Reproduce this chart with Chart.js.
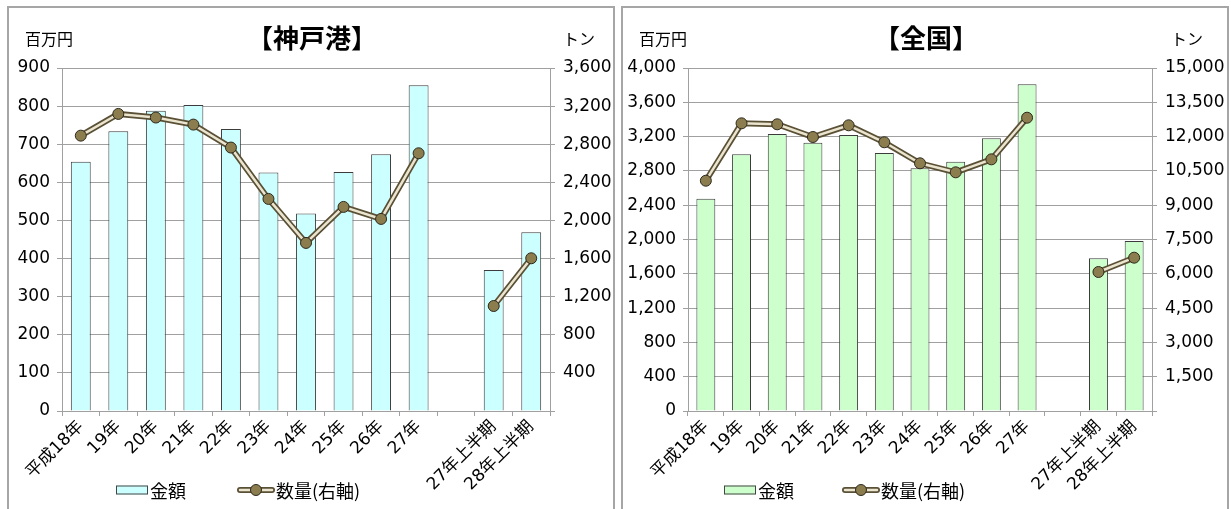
<!DOCTYPE html>
<html>
<head>
<meta charset="utf-8">
<script src="https://cdn.jsdelivr.net/npm/chart.js@4"></script>
<style>
  body { margin: 0; background: #fff; width: 1231px; height: 509px; overflow: hidden; position: relative; }
  .panel { position: absolute; top: 6px; width: 608px; height: 524px; border: 2px solid #a6a6a6; box-sizing: border-box; }
  #p1 { left: 7px; }
  #p2 { left: 621px; }
  canvas { display: block; }
</style>
</head>
<body>
<div class="panel" id="p1"><canvas id="kobe" width="604" height="520"></canvas></div>
<div class="panel" id="p2"><canvas id="zenkoku" width="604" height="520"></canvas></div>
<script>
var categories = ['平成18年', '19年', '20年', '21年', '22年', '23年', '24年', '25年', '26年', '27年', '', '27年上半期', '28年上半期'];

// 神戸港
var kobeAmount = [654, 734, 788, 803, 740, 626, 518, 627, 674, 855, null, 370, 469];
var kobeVolume = [2890, 3118, 3080, 3006, 2765, 2226, 1764, 2142, 2016, 2705, null, 1102, 1603];

// 全国
var allAmount = [2476, 2994, 3230, 3129, 3219, 3009, 2830, 2907, 3180, 3810, null, 1781, 1982];
var allVolume = [10071, 12581, 12538, 11982, 12494, 11751, 10833, 10438, 11006, 12826, null, 6079, 6705];

var FONT = '"DejaVu Sans", "Noto Sans CJK JP", sans-serif';
var JP = '"Noto Sans CJK JP", "DejaVu Sans", sans-serif';
var GRID = '#a0a0a0';
var LINE_DARK = '#5a5036';
var LINE_LIGHT = '#ebe5cf';
var DOT = '#8b7d4e';

function fmt(v) { return v.toLocaleString('en-US'); }

// titles, unit labels and legend
var decorations = {
    id: 'decorations',
    afterDraw: function(chart) {
        var o = chart.options.plugins.decorations;
        var ctx = chart.ctx;
        ctx.save();
        ctx.fillStyle = '#000';
        ctx.textBaseline = 'middle';
        ctx.font = 'bold 26px ' + JP;
        ctx.textAlign = 'center';
        ctx.fillText(o.title, 303, 30);
        ctx.font = '16px ' + JP;
        ctx.textAlign = 'left';
        ctx.fillText('百万円', 16, 31);
        ctx.fillText('トン', o.tonX, 31);

        // legend: bars
        var ly = 482;
        ctx.fillStyle = o.barColor;
        ctx.strokeStyle = '#444';
        ctx.lineWidth = 1;
        ctx.fillRect(o.boxX, ly - 4.5, 32, 9);
        ctx.strokeRect(o.boxX + 0.5, ly - 4, 31, 8);
        ctx.fillStyle = '#000';
        ctx.font = '18px ' + JP;
        ctx.fillText(chart.data.datasets[2].label, o.boxX + 34, ly + 1);

        // legend: line
        var x0 = o.lineX, x1 = o.lineX + 38;
        ctx.lineCap = 'round';
        ctx.strokeStyle = LINE_DARK;
        ctx.lineWidth = 6;
        ctx.beginPath(); ctx.moveTo(x0 + 3, ly); ctx.lineTo(x1 - 3, ly); ctx.stroke();
        ctx.strokeStyle = LINE_LIGHT;
        ctx.lineWidth = 2.5;
        ctx.beginPath(); ctx.moveTo(x0 + 3, ly); ctx.lineTo(x1 - 3, ly); ctx.stroke();
        ctx.beginPath();
        ctx.arc((x0 + x1) / 2, ly, 5.5, 0, Math.PI * 2);
        ctx.fillStyle = DOT; ctx.fill();
        ctx.strokeStyle = '#2e2a1e'; ctx.lineWidth = 1; ctx.stroke();
        ctx.fillStyle = '#000';
        ctx.fillText(chart.data.datasets[1].label, x1 + 1, ly + 1);
        ctx.restore();
    }
};

function makeChart(id, title, amount, volume, barColor, yMax, yStep, y2Max, y2Step, leftW, rightW, deco) {
    var ctx = document.getElementById(id).getContext('2d');
    deco.title = title;
    deco.barColor = barColor;
    return new Chart(ctx, {
        type: 'bar',
        data: {
            labels: categories,
            datasets: [{
                type: 'line',
                label: '',
                data: volume,
                yAxisID: 'y2',
                borderColor: LINE_DARK,
                borderWidth: 6,
                pointRadius: 0,
                order: 2
            }, {
                type: 'line',
                label: '数量(右軸)',
                data: volume,
                yAxisID: 'y2',
                borderColor: LINE_LIGHT,
                borderWidth: 2.5,
                pointRadius: 5.5,
                pointBackgroundColor: DOT,
                pointBorderColor: '#2e2a1e',
                pointBorderWidth: 1,
                order: 1
            }, {
                type: 'bar',
                label: '金額',
                data: amount,
                yAxisID: 'y',
                backgroundColor: barColor,
                borderColor: '#3c3c3c',
                borderWidth: 1,
                categoryPercentage: 1,
                barPercentage: 0.53,
                order: 3
            }]
        },
        options: {
            responsive: false,
            animation: false,
            layout: { padding: { top: 60, left: 0, right: 0, bottom: 0 } },
            plugins: {
                legend: { display: false },
                tooltip: { enabled: false },
                decorations: deco
            },
            scales: {
                x: {
                    afterFit: function(s) { s.height = 117; },
                    grid: { offset: true, drawOnChartArea: false, color: GRID, tickLength: 5 },
                    border: { color: GRID },
                    ticks: {
                        color: '#000',
                        font: { family: FONT, size: 17 },
                        minRotation: 45, maxRotation: 45, autoSkip: false, padding: 1
                    }
                },
                y: {
                    position: 'left',
                    min: 0, max: yMax,
                    afterFit: function(s) { s.width = leftW; },
                    grid: { color: GRID, tickLength: 5 },
                    border: { color: GRID },
                    ticks: {
                        stepSize: yStep, color: '#000', padding: 7,
                        font: { family: FONT, size: 17 },
                        callback: function(v) { return fmt(v); }
                    }
                },
                y2: {
                    position: 'right',
                    min: 0, max: y2Max,
                    afterFit: function(s) { s.width = rightW; },
                    grid: { drawOnChartArea: false, color: GRID, tickLength: 5 },
                    border: { color: GRID },
                    ticks: {
                        stepSize: y2Step, color: '#000', padding: 8,
                        font: { family: FONT, size: 17 },
                        callback: function(v) { return v === 0 ? '' : fmt(v); }
                    }
                }
            }
        },
        plugins: [decorations]
    });
}

document.fonts.load('16px "Noto Sans CJK JP"').then(function() {
    makeChart('kobe', '【神戸港】', kobeAmount, kobeVolume, '#ccffff', 900, 100, 3600, 400, 53, 63,
        { tonX: 554, boxX: 107, lineX: 228 });
    makeChart('zenkoku', '【全国】', allAmount, allVolume, '#ccffcc', 4000, 400, 15000, 1500, 65, 75,
        { tonX: 548, boxX: 101, lineX: 219 });
});
</script>
</body>
</html>
